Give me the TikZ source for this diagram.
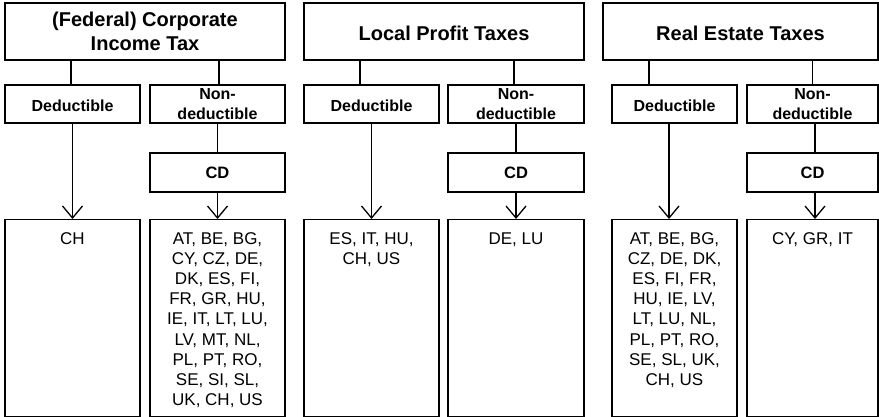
\documentclass[tikz,border=0pt]{standalone}
\usepackage{fontspec}
\setmainfont{Liberation Sans}
\usetikzlibrary{arrows.meta}

% country lists hang from their first line
\newcommand\countries[1]{\begin{tabular}[t]{@{}c@{}}#1\end{tabular}}

\tikzset{
  taxbox/.style={draw, line width=1.4pt, minimum width=280, minimum height=57,
    align=center, font=\bfseries\fontsize{20}{24}\selectfont},
  subbox/.style={draw, line width=1.4pt, minimum width=135, minimum height=38,
    align=center, inner sep=0pt, font=\bfseries\fontsize{16}{20.5}\selectfont},
  cdbox/.style={draw, line width=2.7pt, minimum width=135, minimum height=39,
    font=\bfseries\fontsize{16.5}{20}\selectfont},
  listbox/.style={draw, line width=1.4pt, minimum width=135, anchor=north,
    inner ysep=0pt, text height=24.5, text depth=172.5,
    font=\fontsize{17}{20.2}\selectfont},
  conn/.style={line width=1.3pt},
  arr/.style={line width=1.3pt, -{Straight Barb[length=12pt,width=20pt]}}
}

\begin{document}
\begin{tikzpicture}[x=1pt, y=-1pt]
  \useasboundingbox (0,0) rectangle (879,417);

  % tax kinds
  \node[taxbox] (tax1) at (145,31.5) {(Federal) Corporate\\Income Tax};
  \node[taxbox, text height=18.4, text depth=0pt] (tax2) at (444,31.5) {Local Profit Taxes};
  \node[taxbox, minimum width=275, text height=18.4, text depth=0pt] (tax3) at (740.5,31.5) {Real Estate Taxes};

  % deductible or not
  \node[subbox, text height=15, text depth=0pt] (ded1) at (72.5,104) {Deductible};
  \node[subbox] (non1) at (217.5,104) {Non-\\deductible};
  \node[subbox, text height=15, text depth=0pt] (ded2) at (371.5,104) {Deductible};
  \node[subbox, minimum width=136] (non2) at (516,104) {Non-\\deductible};
  \node[subbox, minimum width=125, text height=15, text depth=0pt] (ded3) at (674.5,104) {Deductible};
  \node[subbox, minimum width=131] (non3) at (812.5,104) {Non-\\deductible};

  \node[cdbox] (cd1) at (217.5,172.5) {CD};
  \node[cdbox, minimum width=136] (cd2) at (516,172.5) {CD};
  \node[cdbox, minimum width=131] (cd3) at (812.5,172.5) {CD};

  % countries
  \node[listbox] (list1) at (72.5,219) {\countries{CH}};
  \node[listbox] (list2) at (217.5,219) {\countries{AT, BE, BG,\\CY, CZ, DE,\\DK, ES, FI,\\FR, GR, HU,\\IE, IT, LT, LU,\\LV, MT, NL,\\PL, PT, RO,\\SE, SI, SL,\\UK, CH, US}};
  \node[listbox] (list3) at (371.5,219) {\countries{ES, IT, HU,\\CH, US}};
  \node[listbox, minimum width=136] (list4) at (516,219) {\countries{DE, LU}};
  \node[listbox, minimum width=125] (list5) at (674.5,219) {\countries{AT, BE, BG,\\CZ, DE, DK,\\ES, FI, FR,\\HU, IE, LV,\\LT, LU, NL,\\PL, PT, RO,\\SE, SL, UK,\\CH, US}};
  \node[listbox, minimum width=131] (list6) at (812.5,219) {\countries{CY, GR, IT}};

  % links down from the headings
  \draw[conn] (ded1.north) ++(-1.5,0) -- +(0,-25);
  \draw[conn] (non1.north) ++(1.5,0) -- +(0,-25);
  \draw[conn] (ded2.north) ++(-11.5,0) -- +(0,-25);
  \draw[conn] (non2.north) ++(-2,0) -- +(0,-25);
  \draw[conn] (ded3.north) ++(-25.5,0) -- +(0,-25);
  \draw[conn] (non3.north) -- +(0,-25);

  \draw[arr] (ded1.south) -- (list1.north);
  \draw[conn] (non1.south) -- (cd1.north);
  \draw[arr] (cd1.south) -- (list2.north);

  \draw[arr] (ded2.south) -- (list3.north);
  \draw[conn] (non2.south) -- (cd2.north);
  \draw[arr] (cd2.south) -- (list4.north);

  \draw[arr] ([xshift=-5.5pt]ded3.south) -- ([xshift=-5.5pt]list5.north);
  \draw[conn] (non3.south) ++(2.5,0) -- +(0,30);
  \draw[arr] ([xshift=2.5pt]cd3.south) -- ([xshift=2.5pt]list6.north);
\end{tikzpicture}
\end{document}
